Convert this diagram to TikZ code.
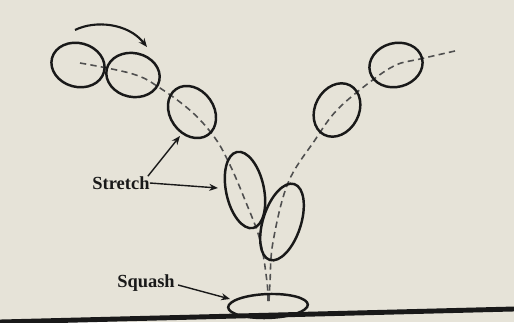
\documentclass[tikz,border=0pt]{standalone}
\usepackage{fontspec}
\setmainfont{Liberation Serif}
\usetikzlibrary{arrows.meta,shapes.geometric}
\definecolor{paper}{RGB}{230,227,216}
\definecolor{ink}{RGB}{25,25,25}
\definecolor{dashink}{RGB}{80,80,80}
\tikzset{
  ball/.style={draw=ink, line width=1.4pt, shape=ellipse, inner sep=0pt},
  pathline/.style={draw=dashink, line width=0.9pt, dash pattern=on 3.6pt off 2.4pt},
  lbl/.style={font=\fontsize{10.5}{12}\selectfont\bfseries, text=ink, inner sep=0pt},
  pointer/.style={draw=ink, line width=0.8pt, -{Stealth[length=5pt,width=4pt]}},
}
\begin{document}
\begin{tikzpicture}[x=0.02cm,y=0.02cm]
\fill[paper] (0,0) rectangle (514,322);
\useasboundingbox (0,0) rectangle (514,322);
% dashed trajectories
\draw[pathline] plot[smooth,tension=0.6] coordinates {(80,259) (133,248) (160,234) (192,210) (215,184) (230,157) (245,122) (260,82) (267,40) (268,19)};
\draw[pathline] plot[smooth,tension=0.6] coordinates {(455,271) (420,263) (396,257) (370,240) (337,212) (315,182) (288,139) (273,80) (270,40) (269,19)};
% balls
\node[ball, minimum width=54*0.567pt, minimum height=44*0.567pt, rotate=-15] (e1) at (78,257) {};
\node[ball, minimum width=54*0.567pt, minimum height=44*0.567pt, rotate=-12] (e2) at (133,247) {};
\node[ball, minimum width=56*0.567pt, minimum height=44*0.567pt, rotate=-55] (e3) at (192,210) {};
\node[ball, minimum width=78*0.567pt, minimum height=38*0.567pt, rotate=-78] (e4) at (245,132) {};
\node[ball, minimum width=80*0.567pt, minimum height=38*0.567pt, rotate=72] (e5) at (282,100) {};
\node[ball, minimum width=80*0.567pt, minimum height=24*0.567pt, rotate=2] (e6) at (268,16) {};
\node[ball, minimum width=56*0.567pt, minimum height=44*0.567pt, rotate=62] (e7) at (337,212) {};
\node[ball, minimum width=54*0.567pt, minimum height=44*0.567pt, rotate=15] (e8) at (396,257) {};
% ground
\draw[ink, line width=2.8pt] (0,0) -- (514,13);
% arc arrow
\coordinate (arcS) at (75,292);
\coordinate (arcE) at (147,275);
\draw[pointer, line width=1.2pt] (arcS) .. controls (95,302) and (128,299) .. (arcE);
% labels
\node[lbl] (stretch) at (121,139) {Stretch};
\node[lbl] (squash) at (146,39) {Squash};
\coordinate (tipA) at (218,134);
\coordinate (tipB) at (180,186);
\coordinate (tipC) at (230,23);
\draw[pointer] (stretch.east) -- (tipA);
\draw[pointer] (stretch.north east) ++(-2,0) -- (tipB);
\draw[pointer] (squash.east) ++(3,-2) -- (tipC);
\end{tikzpicture}
\end{document}
